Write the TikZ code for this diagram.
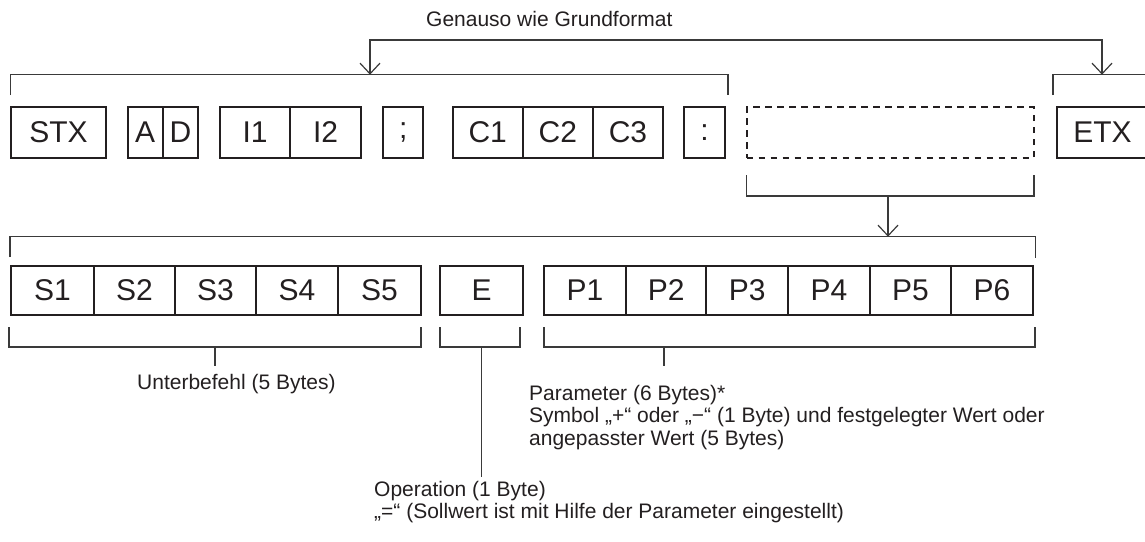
\documentclass[tikz,border=0pt]{standalone}
\usepackage{fontspec}
\setmainfont{Liberation Sans}
\usetikzlibrary{arrows.meta}
\definecolor{ink}{HTML}{231F20}
\definecolor{brk}{HTML}{3A3A3A}
\begin{document}
\begin{tikzpicture}[x=1pt,y=-1pt,
  cell/.style={draw=ink, line width=2pt, inner sep=0pt, font=\fontsize{30}{32}\selectfont, text=ink},
  toprow/.style={cell, minimum height=50.4pt},
  botrow/.style={cell, minimum height=49.5pt},
  dashbox/.style={draw=ink, line width=2pt, dash pattern=on 6.5pt off 5.5pt, inner sep=0pt, minimum height=50.4pt},
  brak/.style={draw=brk, line width=1.2pt},
  barb/.tip={Straight Barb[length=10.7pt,width=20pt]},
  arr/.style={brak, -barb},
  arrboth/.style={brak, barb-barb},
  lbl/.style={font=\fontsize{21}{22.5}\selectfont, text=ink, inner sep=0pt, align=left}]
\useasboundingbox (0,0) rectangle (1145,541);

% ---------- top row ----------
\node[toprow, minimum width=95pt]   (stx) at (58.5,132.5)  {STX};
\node[toprow, minimum width=35pt]   (a)   at (145.2,132.5) {A};
\node[toprow, minimum width=35.6pt] (d)   at (180.5,132.5) {D};
\node[toprow, minimum width=70.3pt] (i1)  at (255.15,132.5) {I1};
\node[toprow, minimum width=70.7pt] (i2)  at (325.65,132.5) {I2};
\node[toprow, minimum width=40pt]   (semi) at (403.3,132.5) {;};
\node[toprow, minimum width=70pt]   (c1)  at (487.7,132.5) {C1};
\node[toprow, minimum width=70.3pt] (c2)  at (557.85,132.5) {C2};
\node[toprow, minimum width=70pt]   (c3)  at (628,132.5)   {C3};
\node[toprow, minimum width=40.7pt] (colon) at (704.65,132.5) {:};
\node[dashbox, minimum width=287.3pt] (dat) at (890.35,132.5) {};
\node[toprow, minimum width=91pt]   (etx) at (1102.5,132.5) {ETX};

% ---------- bottom row ----------
\node[botrow, minimum width=82.7pt] (s1) at (52.35,290.25) {S1};
\node[botrow, minimum width=81.3pt] (s2) at (134.35,290.25) {S2};
\node[botrow, minimum width=81pt]   (s3) at (215.5,290.25) {S3};
\node[botrow, minimum width=82pt]   (s4) at (297,290.25)   {S4};
\node[botrow, minimum width=83pt]   (s5) at (379.5,290.25) {S5};
\node[botrow, minimum width=83pt]   (e)  at (481.5,290.25) {E};
\node[botrow, minimum width=82pt]   (p1) at (585,290.25)   {P1};
\node[botrow, minimum width=80.3pt] (p2) at (666.15,290.25) {P2};
\node[botrow, minimum width=82pt]   (p3) at (747.3,290.25) {P3};
\node[botrow, minimum width=81.4pt] (p4) at (829,290.25)   {P4};
\node[botrow, minimum width=81.3pt] (p5) at (910.35,290.25) {P5};
\node[botrow, minimum width=81.7pt] (p6) at (991.85,290.25) {P6};

% ---------- brackets ----------
\draw[brak] (10.3,95) -- (10.3,74.7) -- (728,74.7) -- (728,95);
\draw[brak] (1053,95) -- (1053,74.7) -- (1150,74.7);
\draw[brak] (746.7,175) -- (746.7,196) -- (1034,196) -- (1034,175);
\draw[brak] (10,257) -- (10,236.7) -- (1035.7,236.7) -- (1035.7,258);
\draw[brak] (9,327) -- (9,347) -- (421,347) -- (421,327);
\draw[brak] (440,327) -- (440,347) -- (520,347) -- (520,327);
\draw[brak] (544,327) -- (544,347) -- (1035,347) -- (1035,327);

% ---------- connectors ----------
\coordinate (b1) at (370,74.7);
\coordinate (t1) at (370,40);
\coordinate (t2) at (1102,40);
\coordinate (b2) at (1102,74.7);
\draw[arrboth] (b1) -- (t1) -- (t2) -- (b2);

\coordinate (dm) at (888,196);
\coordinate (bm) at (888,236.7);
\draw[arr] (dm) -- (bm);

\coordinate (sm) at (215,347);
\coordinate (se) at (215,366);
\draw[brak] (sm) -- (se);
\coordinate (em) at (481.7,347);
\coordinate (ee) at (481.7,477);
\draw[brak] (em) -- (ee);
\coordinate (pm) at (664,347);
\coordinate (pe) at (664,366);
\draw[brak] (pm) -- (pe);

% ---------- labels (base = baseline of last line) ----------
\node[lbl, anchor=base west] (tg) at (426,26) {Genauso wie Grundformat};
\node[lbl, anchor=base west] (tu) at (137,389) {Unterbefehl (5 Bytes)};
\node[lbl, anchor=base west] (tp) at (529,445) {Parameter (6 Bytes)*\\Symbol „+“ oder „−“ (1 Byte) und festgelegter Wert oder\\angepasster Wert (5 Bytes)};
\node[lbl, anchor=base west] (to) at (374,518.5) {Operation (1 Byte)\\„=“ (Sollwert ist mit Hilfe der Parameter eingestellt)};
\end{tikzpicture}
\end{document}
